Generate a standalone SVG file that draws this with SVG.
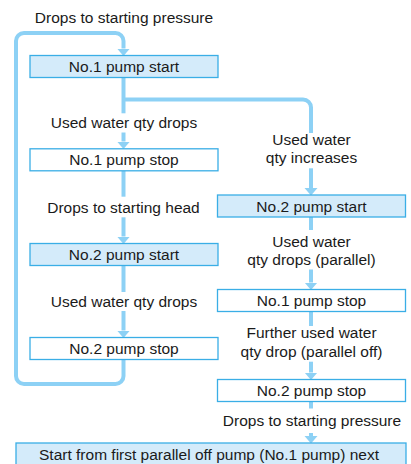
<svg xmlns="http://www.w3.org/2000/svg" width="411" height="464" viewBox="0 0 411 464">
<defs>
<style>
.box{stroke:#3aaee6;stroke-width:1.3}
.lt{fill:#d4ebfa}
.wt{fill:#ffffff}
.c{fill:none;stroke:#8dd1f5;stroke-width:4}
text{font-family:"Liberation Sans",Arial,sans-serif;font-size:15.5px;fill:#1a1a1a;text-anchor:middle}
</style>
<marker id="ah" markerUnits="userSpaceOnUse" markerWidth="8" markerHeight="14" refX="0" refY="6.5" orient="auto" viewBox="0 0 8 13">
<path d="M0,0 L7.5,6.5 L0,13 Z" fill="#8dd1f5"/>
</marker>
</defs>
<rect width="411" height="464" fill="#ffffff"/>
<g id="connectors">
<path class="c" d="M123.5,359.5 V376 A8,8 0 0 1 115.5,384 H24 A8,8 0 0 1 16,376 V41 A8,8 0 0 1 24,33 H115.5 A8,8 0 0 1 123.5,41 V48.5" marker-end="url(#ah)"/>
<path class="c" d="M123.5,77.5 V113.3"/>
<path class="c" d="M123.5,99.5 H303 A8,8 0 0 1 311,107.5 V133"/>
<path class="c" d="M123.5,132.5 V141.5" marker-end="url(#ah)"/>
<path class="c" d="M123.5,170.8 V196.7"/>
<path class="c" d="M123.5,217.3 V236.5" marker-end="url(#ah)"/>
<path class="c" d="M123.5,265.5 V292"/>
<path class="c" d="M123.5,311 V330.5" marker-end="url(#ah)"/>
<path class="c" d="M311,168.3 V188" marker-end="url(#ah)"/>
<path class="c" d="M311,217 V230"/>
<path class="c" d="M311,269.5 V282.5" marker-end="url(#ah)"/>
<path class="c" d="M311,311.5 V326"/>
<path class="c" d="M311,361.7 V372.5" marker-end="url(#ah)"/>
<path class="c" d="M311,401.5 V408.5"/>
<path class="c" d="M311,433 V436" marker-end="url(#ah)"/>
</g>
<g id="labels">
<text x="124" y="22.5">Drops to starting pressure</text>
<text x="124" y="127.7">Used water qty drops</text>
<text x="123.5" y="212.7">Drops to starting head</text>
<text x="124" y="306.7">Used water qty drops</text>
<text x="311.5" y="145">Used water</text>
<text x="311.5" y="162.7">qty increases</text>
<text x="311.5" y="246.7">Used water</text>
<text x="311.5" y="264.5">qty drops (parallel)</text>
<text x="311.5" y="338.3">Further used water</text>
<text x="311.5" y="356.7">qty drop (parallel off)</text>
<text x="312" y="426">Drops to starting pressure</text>
</g>
<g id="n1start"><rect class="box lt" x="30" y="55.5" width="188" height="22"/><text x="124" y="72">No.1 pump start</text></g>
<g id="n1stop"><rect class="box wt" x="30" y="148.8" width="188" height="22"/><text x="124" y="165.3">No.1 pump stop</text></g>
<g id="n2start"><rect class="box lt" x="30" y="243.5" width="188" height="22"/><text x="124" y="260">No.2 pump start</text></g>
<g id="n2stop"><rect class="box wt" x="30" y="337.5" width="188" height="22"/><text x="124" y="354">No.2 pump stop</text></g>
<g id="r2start"><rect class="box lt" x="217.5" y="195" width="188" height="22"/><text x="311.5" y="211.5">No.2 pump start</text></g>
<g id="r1stop"><rect class="box wt" x="217.5" y="289.5" width="188" height="22"/><text x="311.5" y="306">No.1 pump stop</text></g>
<g id="r2stop"><rect class="box wt" x="217.5" y="379.5" width="188" height="22"/><text x="311.5" y="396">No.2 pump stop</text></g>
<g id="next"><rect class="box lt" x="16" y="443" width="390" height="22"/><text x="209" y="460">Start from first parallel off pump (No.1 pump) next</text></g>
</svg>
